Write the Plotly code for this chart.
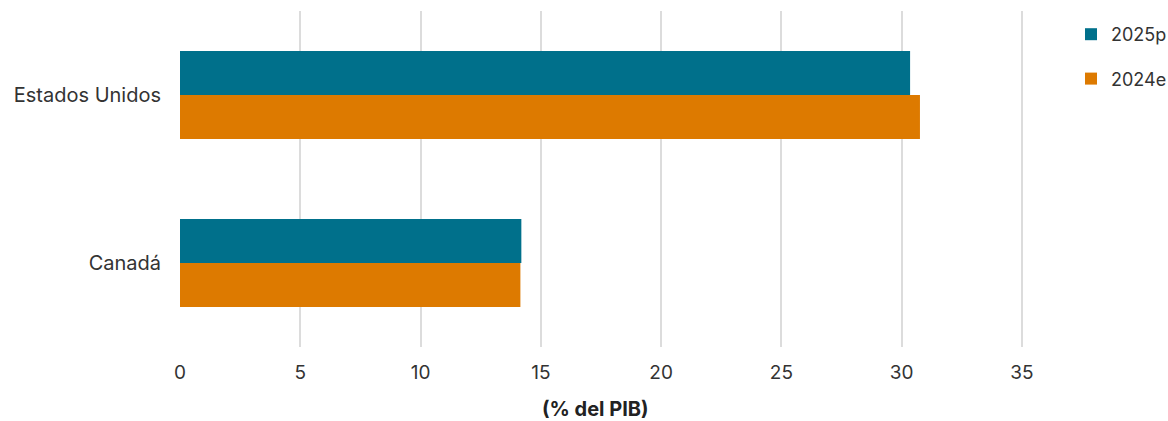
import plotly.graph_objects as go

categories = ["Estados Unidos", "Canadá"]
series_names = ["2025p", "2024e"]
values_2025p = [30.35, 14.19]
values_2024e = [30.76, 14.15]
x_ticks = [0, 5, 10, 15, 20, 25, 30, 35]
x_title = "(% del PIB)"

colors = {"2025p": "#00708B", "2024e": "#DD7A00"}
FONT = "Inter, Roboto, Arial, sans-serif"

fig = go.Figure()
for name, vals, grp in [("2025p", values_2025p, "a"), ("2024e", values_2024e, "b")]:
    fig.add_trace(go.Bar(
        y=categories, x=vals, name=name, orientation="h",
        marker=dict(color=colors[name], line=dict(width=0)),
        legendgroup=grp,
    ))

fig.update_layout(
    width=1168, height=421,
    margin=dict(l=180, r=122, t=11, b=74, autoexpand=False),
    paper_bgcolor="white", plot_bgcolor="white",
    barmode="group", bargap=0.476, bargroupgap=0,
    font=dict(family=FONT, size=19, color="#333333"),
    showlegend=True,
    legend=dict(xref="container", yref="container", x=1071 / 1168, y=1 - 16 / 421,
                xanchor="left", yanchor="top",
                font=dict(size=18, color="#333333"),
                tracegroupgap=18, itemwidth=30, bgcolor="rgba(0,0,0,0)"),
    xaxis=dict(range=[0, 36], tickvals=x_ticks, showgrid=True,
               gridcolor="#DCDCDC", gridwidth=2, zeroline=False,
               showline=False, ticks="", ticklabelstandoff=12,
               tickfont=dict(size=19, color="#333333")),
    yaxis=dict(autorange="reversed", showgrid=False, zeroline=False,
               showline=False, ticks="", ticklabelstandoff=18,
               tickfont=dict(size=20, color="#333333")),
)
fig.add_annotation(text="<b>" + x_title + "</b>", xref="paper", yref="paper",
                   x=(595 - 180) / 866, y=-0.185, xanchor="center", yanchor="middle",
                   showarrow=False, font=dict(size=20, color="#222222"))

fig.write_html("out.html")
